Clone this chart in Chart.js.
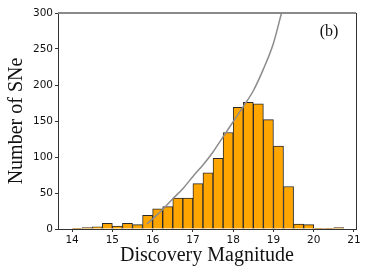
<!DOCTYPE html>
<html>
<head>
<meta charset="utf-8">
<script src="https://cdn.jsdelivr.net/npm/chart.js@4"></script>
<style>
  html, body { margin: 0; padding: 0; background: #fff; }
  #wrap { width: 369px; height: 277px; }
</style>
</head>
<body>
<div id="wrap"><canvas id="histCanvas" width="369" height="277"></canvas></div>
<script>
// Histogram bins (left edge of each 0.25 mag bin) and counts
const binWidth = 0.25;
const binEdges = [14.0, 14.25, 14.5, 14.75, 15.0, 15.25, 15.5, 15.75, 16.0, 16.25, 16.5, 16.75,
  17.0, 17.25, 17.5, 17.75, 18.0, 18.25, 18.5, 18.75, 19.0, 19.25, 19.5, 19.75, 20.0, 20.25, 20.5];
const snCounts = [1, 2, 3, 8, 4, 8, 6, 19, 28, 31, 43, 43,
  63, 78, 98, 134, 169, 176, 174, 152, 115, 59, 7, 6, 1, 1, 2];

// Grey model curve
const curveMag = [15.86, 16.0, 16.25, 16.5, 16.75, 17.0, 17.25, 17.5, 17.75, 18.0, 18.25, 18.5, 18.75, 19.0, 19.2];
const curveCount = [7, 14, 27, 42, 56, 73, 89, 107, 128, 149, 170, 192, 222, 258, 300];

// Axis ticks
const xTicks = [14, 15, 16, 17, 18, 19, 20, 21];
const yTicks = [0, 50, 100, 150, 200, 250, 300];

const barData = binEdges.map((e, i) => ({ x: e + binWidth / 2, y: snCounts[i] }));
const curveData = curveMag.map((m, i) => ({ x: m, y: curveCount[i] }));

// Frame (top + right spines) and the panel label
const framePlugin = {
  id: 'frame',
  afterDraw(chart) {
    const { ctx, chartArea: a } = chart;
    ctx.save();
    ctx.strokeStyle = '#8a8a8a';
    ctx.lineWidth = 2;
    ctx.beginPath();
    ctx.moveTo(a.left, a.top);
    ctx.lineTo(a.right, a.top);
    ctx.stroke();
    ctx.strokeStyle = '#333';
    ctx.lineWidth = 1;
    ctx.beginPath();
    ctx.moveTo(a.right + 0.5, a.top);
    ctx.lineTo(a.right + 0.5, a.bottom);
    ctx.stroke();
    ctx.fillStyle = '#111';
    ctx.font = '16px "Liberation Serif", "Times New Roman", serif';
    ctx.textAlign = 'center';
    ctx.textBaseline = 'middle';
    ctx.fillText('(b)', 329, 32);
    ctx.restore();
  }
};

new Chart(document.getElementById('histCanvas').getContext('2d'), {
  type: 'bar',
  data: {
    datasets: [
      {
        type: 'line',
        data: curveData,
        borderColor: '#8c8c8c',
        borderWidth: 1.5,
        pointRadius: 0,
        cubicInterpolationMode: 'monotone',
        fill: false,
        order: 0,
      },
      {
        type: 'bar',
        data: barData,
        backgroundColor: '#FFA500',
        borderColor: '#2a2a2a',
        borderWidth: 1,
        barPercentage: 1,
        categoryPercentage: 1,
        order: 1,
      },
    ],
  },
  options: {
    responsive: false,
    animation: false,
    layout: { padding: { top: 13, right: 13, left: 0, bottom: 0 } },
    plugins: { legend: { display: false }, tooltip: { enabled: false } },
    scales: {
      x: {
        type: 'linear',
        offset: false,
        min: 13.65,
        max: 21.05,
        grid: { display: true, drawOnChartArea: false, drawTicks: true, tickLength: 3, color: '#333', offset: false },
        border: { display: true, color: '#333', width: 1 },
        afterBuildTicks: (s) => { s.ticks = xTicks.map(v => ({ value: v })); },
        ticks: {
          padding: 2,
          color: '#111',
          maxRotation: 0,
          font: { family: '"DejaVu Sans", sans-serif', size: 10.5 },
          callback: (v) => String(v),
        },
        title: {
          display: true,
          text: 'Discovery Magnitude',
          color: '#111',
          font: { family: '"Liberation Serif", "Times New Roman", serif', size: 20 },
          padding: { top: 0, bottom: 9 },
        },
        afterFit: (s) => { s.height = 48; s.paddingLeft = 0; s.paddingRight = 0; },
      },
      y: {
        min: 0,
        max: 300,
        grid: { display: true, drawOnChartArea: false, drawTicks: true, tickLength: 3, color: '#333' },
        border: { display: true, color: '#333', width: 1 },
        afterBuildTicks: (s) => { s.ticks = yTicks.map(v => ({ value: v })); },
        ticks: {
          padding: 2,
          color: '#111',
          font: { family: '"DejaVu Sans", sans-serif', size: 10.5 },
        },
        title: {
          display: true,
          text: 'Number of SNe',
          color: '#111',
          font: { family: '"Liberation Serif", "Times New Roman", serif', size: 20 },
          padding: { top: 5, bottom: 0 },
        },
        afterFit: (s) => { s.width = 58; s.paddingTop = 0; s.paddingBottom = 0; },
      },
    },
  },
  plugins: [framePlugin],
});
</script>
</body>
</html>
